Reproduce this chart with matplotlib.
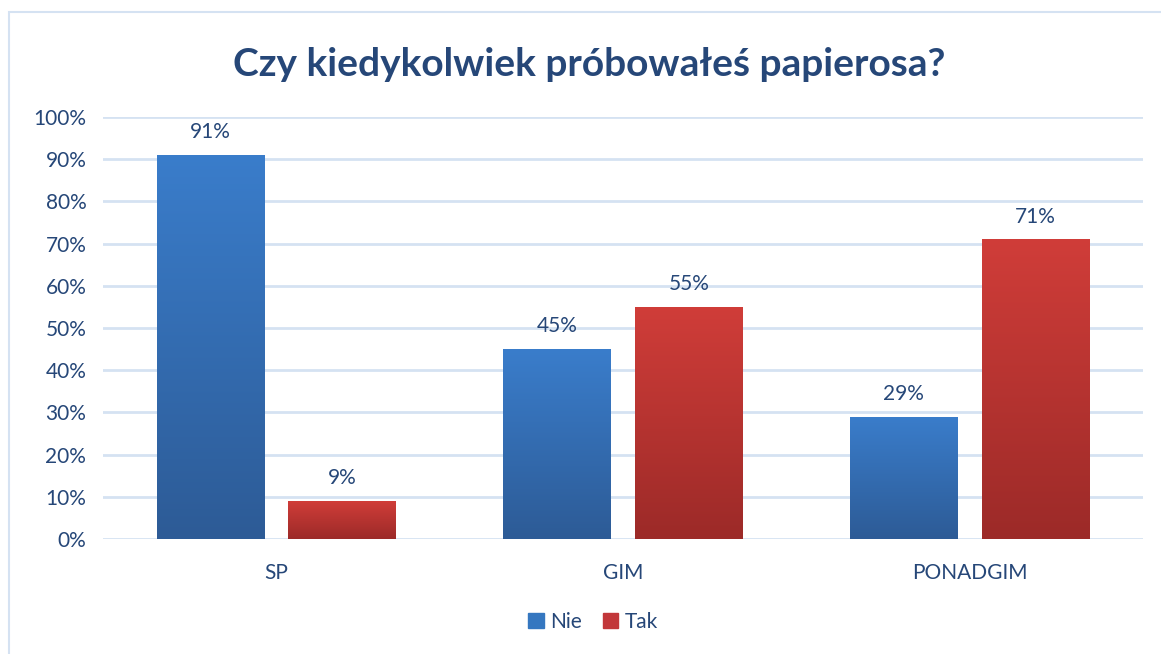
import matplotlib.pyplot as plt
import numpy as np
from matplotlib.patches import Rectangle
from matplotlib.colors import LinearSegmentedColormap

categories = ["SP", "GIM", "PONADGIM"]
nie = [91, 45, 29]
tak = [9, 55, 71]
series_names = ["Nie", "Tak"]

text_color = "#264778"
grid_color = "#D5E2F2"
blue_cmap = LinearSegmentedColormap.from_list("b", ["#2D5B96", "#3A7DCB"])
red_cmap = LinearSegmentedColormap.from_list("r", ["#9C2A28", "#D03D39"])

plt.rcParams['font.family'] = ['Lato', 'DejaVu Sans']

fig = plt.figure(figsize=(11.61, 6.54), dpi=100)
ax = fig.add_axes([103 / 1161, 1 - 539 / 654, 1040 / 1161, 422 / 654])

x = np.arange(len(categories))
width = 0.31
offset = 0.19

grad = np.linspace(0, 1, 256).reshape(-1, 1)
for vals, off, cmap in [(nie, -offset, blue_cmap), (tak, offset, red_cmap)]:
    bars = ax.bar(x + off, vals, width, color="none", edgecolor="none")
    for b in bars:
        x0, y0 = b.get_x(), b.get_y()
        w, h = b.get_width(), b.get_height()
        im = ax.imshow(grad, cmap=cmap, origin="lower", aspect="auto",
                       extent=[x0, x0 + w, y0, y0 + h], zorder=2)
        im.set_clip_path(b)
        ax.text(x0 + w / 2, h + 3, f"{h:.0f}%", ha="center", va="bottom",
                fontsize=15, color=text_color)

ax.set_xlim(-0.5, 2.5)
ax.set_ylim(0, 100)
ax.set_yticks(range(0, 101, 10))
ax.set_yticklabels([f"{v}%" for v in range(0, 101, 10)])
ax.set_xticks(x)
ax.set_xticklabels(categories)
ax.tick_params(length=0, labelsize=15, labelcolor=text_color, pad=12)
ax.tick_params(axis="x", pad=17)
ax.yaxis.grid(True, color=grid_color, linewidth=2)
ax.set_axisbelow(True)
for s in ax.spines.values():
    s.set_visible(False)

fig.text(589 / 1161, 1 - 65 / 654, "Czy kiedykolwiek próbowałeś papierosa?", fontsize=28,
         fontweight="bold", color=text_color, ha="center", va="center")

handles = [Rectangle((0, 0), 1, 1, color="#3577C0"), Rectangle((0, 0), 1, 1, color="#C2373A")]
fig.legend(handles, series_names, loc="center", bbox_to_anchor=(593 / 1161, 1 - 622 / 654),
           ncol=2, frameon=False, fontsize=15, labelcolor=text_color,
           handlelength=0.75, handleheight=0.75, handletextpad=0.3, columnspacing=1.0)

fig.add_artist(Rectangle((9 / 1161, -0.01), 1.1, 1 - 12 / 654 + 0.01, transform=fig.transFigure,
                         fill=False, edgecolor=grid_color, linewidth=1.5))

fig.savefig("out.png", dpi=100)
